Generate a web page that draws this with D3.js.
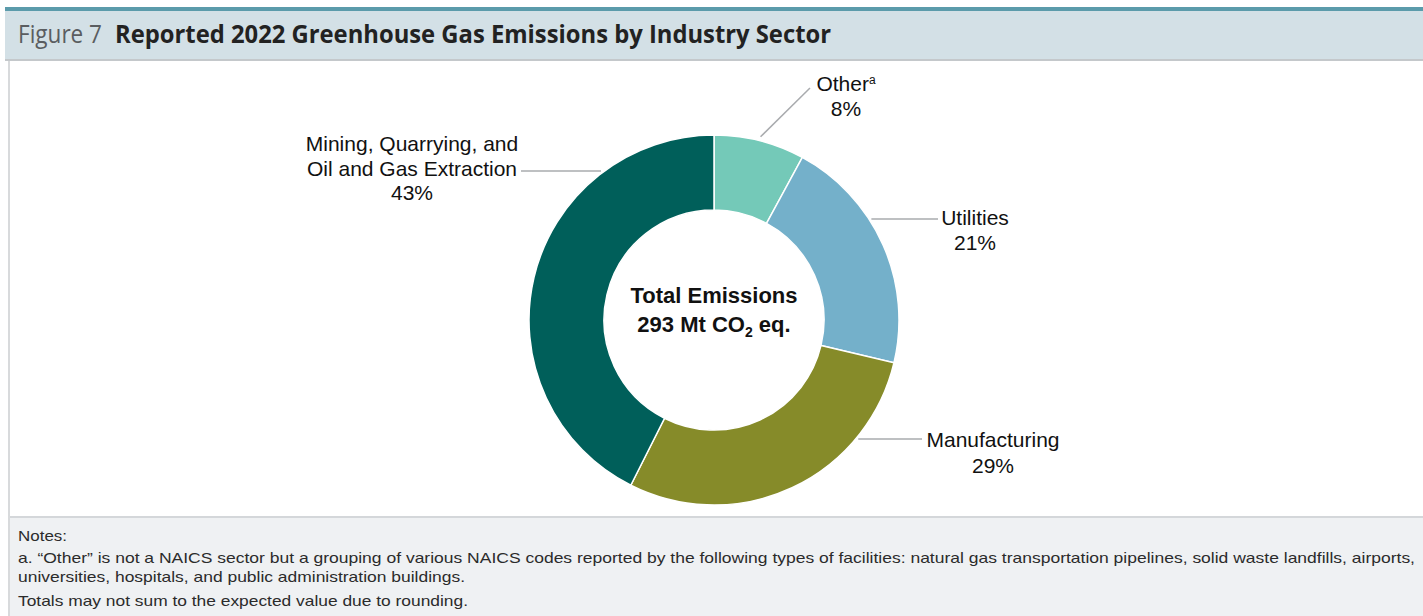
<!DOCTYPE html>
<html>
<head>
<meta charset="utf-8">
<script src="https://cdn.jsdelivr.net/npm/d3@7"></script>
<style>
  html, body { margin: 0; padding: 0; background: #ffffff; }
  svg { display: block; }
</style>
</head>
<body>
<svg id="chart" width="1423" height="616"></svg>
<script>
// Sector shares of reported 2022 emissions (percent)
const sectors = ["Other", "Utilities", "Manufacturing", "Mining, Quarrying, and Oil and Gas Extraction"];
const shares = [8, 21, 29, 43];
const colors = ["#74c9b8", "#74b0ca", "#868b29", "#005f5a"];
const labelLines = [["Other", "8%"], ["Utilities", "21%"], ["Manufacturing", "29%"], ["Mining, Quarrying, and", "Oil and Gas Extraction", "43%"]];
const notes = [
  "Notes:",
  "a. \u201cOther\u201d is not a NAICS sector but a grouping of various NAICS codes reported by the following types of facilities: natural gas transportation pipelines, solid waste landfills, airports,",
  "universities, hospitals, and public administration buildings.",
  "Totals may not sum to the expected value due to rounding."
];

const W = 1423, H = 616;
const svg = d3.select("#chart");

// Frame: top rule, header band, plot area, notes band
svg.append("rect").attr("x", 0).attr("y", 0).attr("width", W).attr("height", H).attr("fill", "#ffffff");
svg.append("rect").attr("x", 5).attr("y", 7).attr("width", W - 5).attr("height", 4).attr("fill", "#5b9bab");
svg.append("rect").attr("x", 5).attr("y", 11).attr("width", W - 5).attr("height", 49).attr("fill", "#d3e0e6");
svg.append("rect").attr("x", 5).attr("y", 59).attr("width", W - 5).attr("height", 2).attr("fill", "#c4c8cb");
svg.append("rect").attr("x", 8).attr("y", 518).attr("width", W - 8).attr("height", H - 518).attr("fill", "#eff1f3");
svg.append("rect").attr("x", 8).attr("y", 516).attr("width", W - 8).attr("height", 2).attr("fill", "#d4d7da");
svg.append("rect").attr("x", 8).attr("y", 61).attr("width", 2).attr("height", H - 61).attr("fill", "#d8dadc");

// Title, condensed to the header's width
const titleFont = "'Open Sans', sans-serif";
svg.append("text").attr("x", 18).attr("y", 43)
  .style("font-family", titleFont).style("font-size", "25px").style("font-weight", 400)
  .attr("fill", "#5a5d60")
  .attr("textLength", 84).attr("lengthAdjust", "spacingAndGlyphs")
  .text("Figure 7");
svg.append("text").attr("x", 115).attr("y", 43)
  .style("font-family", titleFont).style("font-size", "25px").style("font-weight", 700)
  .attr("fill", "#222222")
  .attr("textLength", 716).attr("lengthAdjust", "spacingAndGlyphs")
  .text("Reported 2022 Greenhouse Gas Emissions by Industry Sector");

// Donut
const cx = 714, cy = 320, rOuter = 185, rInner = 110;
const pie = d3.pie().sort(null).value(d => d)(shares);
const arc = d3.arc().innerRadius(rInner).outerRadius(rOuter);
const g = svg.append("g").attr("transform", `translate(${cx},${cy})`);
g.selectAll("path").data(pie).join("path")
  .attr("d", arc)
  .attr("fill", (d, i) => colors[i])
  .attr("stroke", "#ffffff").attr("stroke-width", 1.5);

// Leader lines and labels
const labelFont = "'Liberation Sans', Arial, sans-serif";
const leaders = [
  { r: rOuter + 4, to: [810, 88], tx: 846, ty: [91, 116] },
  { r: rOuter + 2, to: [938, 219], tx: 975, ty: [225, 250] },
  { r: rOuter + 2, to: [922, 439], tx: 993, ty: [447, 473] },
  { r: rOuter + 2, to: [521, 171], tx: 412, ty: [151, 176, 200] }
];
pie.forEach((d, i) => {
  const L = leaders[i];
  const mid = (d.startAngle + d.endAngle) / 2;
  let sx = cx + Math.sin(mid) * L.r, sy = cy - Math.cos(mid) * L.r;
  // horizontal leaders start on the ring at the label's height
  if (i > 0) {
    const dy = L.to[1] - cy;
    const dx = Math.sqrt(Math.max(0, L.r ** 2 - dy * dy));
    sx = cx + (L.to[0] > cx ? dx : -dx);
    sy = L.to[1];
  }
  svg.append("line").attr("x1", sx).attr("y1", sy).attr("x2", L.to[0]).attr("y2", L.to[1])
    .attr("stroke", "#a9abae").attr("stroke-width", 1.5);
  const t = svg.append("text").attr("text-anchor", "middle")
    .style("font-family", labelFont).style("font-size", "21px").attr("fill", "#111111");
  labelLines[i].forEach((line, j) => {
    t.append("tspan").attr("x", L.tx).attr("y", L.ty[j]).text(line);
    if (i === 0 && j === 0) {
      t.append("tspan").attr("dy", -7).style("font-size", "12px").text("a");
    }
  });
});

// Centre total
const ct = svg.append("text").attr("text-anchor", "middle")
  .style("font-family", labelFont).style("font-size", "22px").style("font-weight", 700).attr("fill", "#111111");
ct.append("tspan").attr("x", cx).attr("y", 303).text("Total Emissions");
const l2 = ct.append("tspan").attr("x", cx).attr("y", 332);
l2.append("tspan").text("293 Mt CO");
l2.append("tspan").attr("dy", 5).style("font-size", "14px").text("2");
l2.append("tspan").attr("dy", -5).text(" eq.");

// Notes
const noteY = [541, 563, 582, 606];
const noteWidths = [49, 1397, 447, 450];
svg.selectAll("text.note").data(notes).join("text").attr("class", "note")
  .attr("x", 18).attr("y", (d, i) => noteY[i])
  .style("font-family", labelFont).style("font-size", "15px").attr("fill", "#2b2b2b")
  .attr("textLength", (d, i) => noteWidths[i]).attr("lengthAdjust", "spacingAndGlyphs")
  .text(d => d);
</script>
</body>
</html>
